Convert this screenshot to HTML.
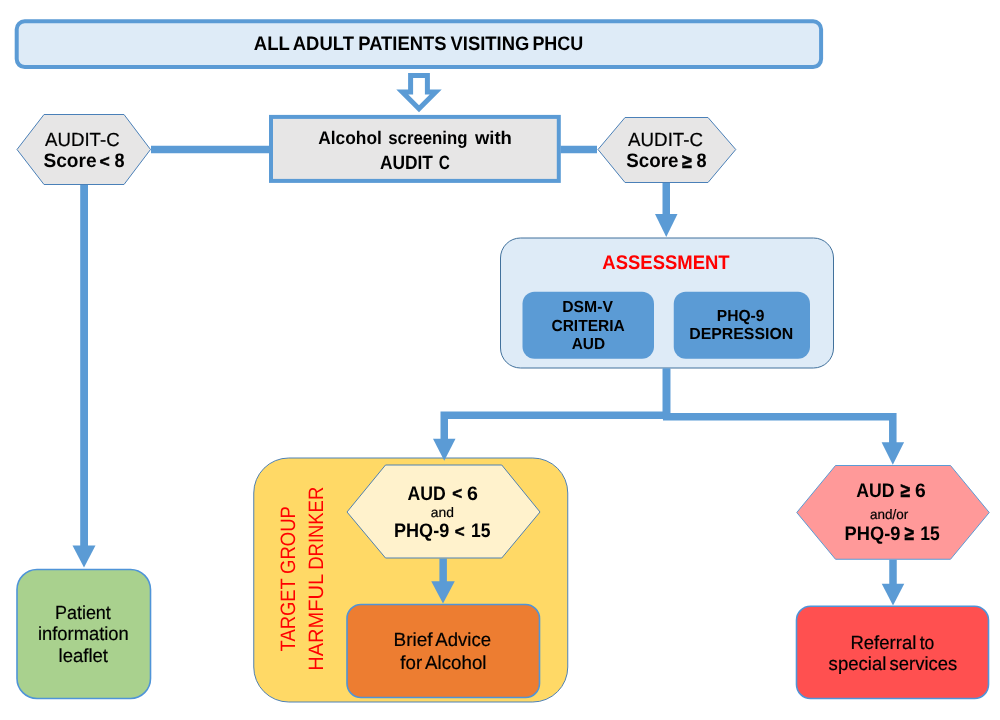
<!DOCTYPE html>
<html lang="en">
<head>
<meta charset="utf-8">
<title>Alcohol screening flowchart</title>
<style>
  html, body { margin: 0; padding: 0; background: #ffffff; }
  body { width: 1000px; height: 720px; overflow: hidden; }
  svg { display: block; will-change: transform; }
  text { font-family: "Liberation Sans", Arial, Helvetica, sans-serif; fill: #000000; white-space: pre; text-rendering: geometricPrecision; }
  .b { font-weight: bold; }
  .n { stroke: #000000; stroke-width: 0.2px; }
  .r { fill: #ff0000; }
  .ln { stroke: #5b9bd5; fill: none; }
  .hd { fill: #5b9bd5; stroke: none; }
</style>
</head>
<body>
<svg width="1000" height="720" viewBox="0 0 1000 720">
  <rect x="0" y="0" width="1000" height="720" fill="#ffffff"/>
  <!-- top banner -->
  <rect x="16.7" y="21.3" width="804.4" height="45.8" rx="8" ry="8" fill="#deebf7" stroke="#5b9bd5" stroke-width="4"/>

  <!-- hollow arrow -->
  <path d="M410.6 75.4 H427.4 V92.1 H435.7 L419 108.8 L402.3 92.1 H410.6 Z" fill="#ffffff" stroke="#5b9bd5" stroke-width="5" stroke-linejoin="miter"/>

  <!-- screening box -->
  <rect x="271" y="116.9" width="287.8" height="64" fill="#e7e6e6" stroke="#5b9bd5" stroke-width="4"/>

  <!-- hexagons -->
  <polygon points="17,149.5 44,114.5 124,114.5 150.5,149.5 124,184.5 44,184.5" fill="#e7e6e6" stroke="#4a80b8" stroke-width="1"/>
  <polygon points="598,149.5 625,117.5 708,117.5 735.75,149.5 708,182.5 625,182.5" fill="#e7e6e6" stroke="#4a80b8" stroke-width="1"/>

  <!-- assessment -->
  <rect x="500.5" y="238" width="333" height="130" rx="20" ry="20" fill="#deebf7" stroke="#41719c" stroke-width="1"/>
  <rect x="522.5" y="291.75" width="131.5" height="67" rx="12" ry="12" fill="#5b9bd5"/>
  <rect x="673.75" y="291.75" width="136.25" height="67" rx="12" ry="12" fill="#5b9bd5"/>

  <!-- target group -->
  <rect x="253.75" y="458" width="314" height="244" rx="35" ry="35" fill="#ffd966" stroke="#4f81b3" stroke-width="1"/>
  <polygon points="347,512 385.5,465 501.75,465 540,512 501.75,558 385.5,558" fill="#fff2cc" stroke="#4f81b3" stroke-width="1"/>
  <rect x="347" y="604.5" width="192.5" height="93" rx="14" ry="14" fill="#ed7d31" stroke="#4f94d8" stroke-width="1.6"/>

  <!-- patient leaflet -->
  <rect x="17" y="569.5" width="133.5" height="129" rx="20" ry="20" fill="#a9d18e" stroke="#4f94d8" stroke-width="1.6"/>

  <!-- right branch -->
  <polygon points="796.75,512.5 835.5,465.5 950.5,465.5 989.25,512.5 950.5,559.25 835.5,559.25" fill="#ff9999" stroke="#5b9bd5" stroke-width="1"/>
  <rect x="796.5" y="606.25" width="192" height="92.25" rx="14" ry="14" fill="#ff5050" stroke="#4f94d8" stroke-width="1.6"/>

  <!-- connectors -->
  <g class="ln" stroke-width="7.5">
    <path d="M151 149.5 H270"/>
    <path d="M560.5 149.5 H597"/>
    <path d="M84.1 185 V547" stroke-width="7.8"/>
    <path d="M666.25 183 V216"/>
    <path d="M444.25 440 V415.3 H666.3 V368.5"/>
    <path d="M666.7 368.5 V416.85 H892.8 V444"/>
    <path d="M443.15 558.5 V583"/>
    <path d="M893 559.75 V585"/>
  </g>
  <g class="hd">
    <path d="M72.5 545.5 H95.5 L84 567.5 Z"/>
    <path d="M655 214 H677.5 L666.25 237 Z"/>
    <path d="M433 438.75 H455.5 L444.25 460.75 Z"/>
    <path d="M881.6 442.3 H904.1 L892.8 464.8 Z"/>
    <path d="M431.25 581.25 H454.75 L443 603.5 Z"/>
    <path d="M881.75 583.75 H904.25 L893 605.5 Z"/>
  </g>

  <!-- labels -->
  <text class="b" y="49.80" font-size="19.5"><tspan x="253.82" textLength="35.66" lengthAdjust="spacingAndGlyphs">ALL</tspan> <tspan x="292.82" textLength="61.08" lengthAdjust="spacingAndGlyphs">ADULT</tspan> <tspan x="358.27" textLength="88.19" lengthAdjust="spacingAndGlyphs">PATIENTS</tspan> <tspan x="450.51" textLength="78.80" lengthAdjust="spacingAndGlyphs">VISITING</tspan> <tspan x="532.40" textLength="50.89" lengthAdjust="spacingAndGlyphs">PHCU</tspan></text>
  <text class="b" y="143.80" font-size="18.3"><tspan x="318.22" textLength="63.60" lengthAdjust="spacingAndGlyphs">Alcohol</tspan> <tspan x="388.25" textLength="79.23" lengthAdjust="spacingAndGlyphs">screening</tspan> <tspan x="474.90" textLength="36.99" lengthAdjust="spacingAndGlyphs">with</tspan></text>
  <text class="b" y="169.00" font-size="19.3"><tspan x="380.04" textLength="52.93" lengthAdjust="spacingAndGlyphs">AUDIT</tspan> <tspan x="438.84" textLength="11.11" lengthAdjust="spacingAndGlyphs">C</tspan></text>
  <text class="n" y="145.80" font-size="19.0"><tspan x="45.10" textLength="74.51" lengthAdjust="spacingAndGlyphs">AUDIT-C</tspan></text>
  <text class="b" y="167.30" font-size="19.5"><tspan x="43.51" y="167.30" textLength="53.12" lengthAdjust="spacingAndGlyphs">Score</tspan> <tspan x="99.62" font-size="16.7" y="166.50" stroke="#000000" stroke-width="0.5" stroke-linejoin="miter" textLength="10.22" lengthAdjust="spacingAndGlyphs">&lt;</tspan> <tspan x="114.44" y="167.30" textLength="10.06" lengthAdjust="spacingAndGlyphs">8</tspan></text>
  <text class="n" y="145.80" font-size="19.0"><tspan x="628.10" textLength="74.91" lengthAdjust="spacingAndGlyphs">AUDIT-C</tspan></text>
  <text class="b" y="167.40" font-size="19.5"><tspan x="626.32" y="167.40" textLength="52.10" lengthAdjust="spacingAndGlyphs">Score</tspan> <tspan x="682.09" font-size="20.1" y="167.65" stroke="#000000" stroke-width="0.5" stroke-linejoin="miter" textLength="9.84" lengthAdjust="spacingAndGlyphs">≥</tspan> <tspan x="696.44" y="167.40" textLength="10.06" lengthAdjust="spacingAndGlyphs">8</tspan></text>
  <text class="b r" y="268.50" font-size="19.6"><tspan x="602.37" textLength="127.29" lengthAdjust="spacingAndGlyphs">ASSESSMENT</tspan></text>
  <text class="b" y="312.20" font-size="16.0"><tspan x="562.22" textLength="50.65" lengthAdjust="spacingAndGlyphs">DSM-V</tspan></text>
  <text class="b" y="330.50" font-size="16.0"><tspan x="551.42" textLength="73.43" lengthAdjust="spacingAndGlyphs">CRITERIA</tspan></text>
  <text class="b" y="348.80" font-size="16.0"><tspan x="571.71" textLength="33.42" lengthAdjust="spacingAndGlyphs">AUD</tspan></text>
  <text class="b" y="321.20" font-size="16.0"><tspan x="716.83" textLength="47.66" lengthAdjust="spacingAndGlyphs">PHQ-9</tspan></text>
  <text class="b" y="339.40" font-size="16.0"><tspan x="689.21" textLength="104.04" lengthAdjust="spacingAndGlyphs">DEPRESSION</tspan></text>
  <text class="b" y="499.60" font-size="19.5"><tspan x="407.44" y="499.60" textLength="38.27" lengthAdjust="spacingAndGlyphs">AUD</tspan> <tspan x="452.34" font-size="16.7" y="498.80" stroke="#000000" stroke-width="0.5" stroke-linejoin="miter" textLength="9.87" lengthAdjust="spacingAndGlyphs">&lt;</tspan> <tspan x="467.09" y="499.60" textLength="10.96" lengthAdjust="spacingAndGlyphs">6</tspan></text>
  <text class="n" y="517.00" font-size="13.7"><tspan x="430.79" textLength="23.14" lengthAdjust="spacingAndGlyphs">and</tspan></text>
  <text class="b" y="537.40" font-size="19.5"><tspan x="394.00" y="537.40" textLength="55.20" lengthAdjust="spacingAndGlyphs">PHQ-9</tspan> <tspan x="454.74" font-size="16.7" y="536.60" stroke="#000000" stroke-width="0.5" stroke-linejoin="miter" textLength="9.87" lengthAdjust="spacingAndGlyphs">&lt;</tspan> <tspan x="470.92" y="537.40" textLength="19.48" lengthAdjust="spacingAndGlyphs">15</tspan></text>
  <text class="b" y="496.60" font-size="19.5"><tspan x="856.24" y="496.60" textLength="38.27" lengthAdjust="spacingAndGlyphs">AUD</tspan> <tspan x="900.60" font-size="20.1" y="496.85" stroke="#000000" stroke-width="0.5" stroke-linejoin="miter" textLength="9.63" lengthAdjust="spacingAndGlyphs">≥</tspan> <tspan x="914.91" y="496.60" textLength="10.73" lengthAdjust="spacingAndGlyphs">6</tspan></text>
  <text class="n" y="518.80" font-size="13.7"><tspan x="870.01" textLength="38.25" lengthAdjust="spacingAndGlyphs">and/or</tspan></text>
  <text class="b" y="540.20" font-size="19.5"><tspan x="844.58" y="540.20" textLength="55.82" lengthAdjust="spacingAndGlyphs">PHQ-9</tspan> <tspan x="904.60" font-size="20.1" y="540.45" stroke="#000000" stroke-width="0.5" stroke-linejoin="miter" textLength="9.52" lengthAdjust="spacingAndGlyphs">≥</tspan> <tspan x="920.32" y="540.20" textLength="19.48" lengthAdjust="spacingAndGlyphs">15</tspan></text>
  <text class="n" y="646.40" font-size="19.0"><tspan x="393.60" textLength="38.98" lengthAdjust="spacingAndGlyphs">Brief</tspan> <tspan x="435.30" textLength="55.75" lengthAdjust="spacingAndGlyphs">Advice</tspan></text>
  <text class="n" y="668.60" font-size="19.0"><tspan x="400.30" textLength="21.82" lengthAdjust="spacingAndGlyphs">for</tspan> <tspan x="425.10" textLength="61.40" lengthAdjust="spacingAndGlyphs">Alcohol</tspan></text>
  <text class="n" y="618.50" font-size="19.0"><tspan x="54.93" textLength="55.94" lengthAdjust="spacingAndGlyphs">Patient</tspan></text>
  <text class="n" y="640.40" font-size="19.0"><tspan x="37.94" textLength="90.84" lengthAdjust="spacingAndGlyphs">information</tspan></text>
  <text class="n" y="661.70" font-size="19.0"><tspan x="58.53" textLength="49.45" lengthAdjust="spacingAndGlyphs">leaflet</tspan></text>
  <text class="n" y="648.50" font-size="19.0"><tspan x="850.44" textLength="65.90" lengthAdjust="spacingAndGlyphs">Referral</tspan> <tspan x="919.67" textLength="14.64" lengthAdjust="spacingAndGlyphs">to</tspan></text>
  <text class="n" y="670.25" font-size="19.0"><tspan x="828.61" textLength="57.73" lengthAdjust="spacingAndGlyphs">special</tspan> <tspan x="889.61" textLength="67.67" lengthAdjust="spacingAndGlyphs">services</tspan></text>
  <text class="r" transform="rotate(-90)" y="295.40" font-size="20.8"><tspan x="-651.45" textLength="72.91" lengthAdjust="spacingAndGlyphs">TARGET</tspan> <tspan x="-573.89" textLength="67.74" lengthAdjust="spacingAndGlyphs">GROUP</tspan></text>
  <text class="r" transform="rotate(-90)" y="322.70" font-size="20.8"><tspan x="-670.83" textLength="96.37" lengthAdjust="spacingAndGlyphs">HARMFUL</tspan> <tspan x="-569.71" textLength="82.92" lengthAdjust="spacingAndGlyphs">DRINKER</tspan></text>
</svg>
</body>
</html>
